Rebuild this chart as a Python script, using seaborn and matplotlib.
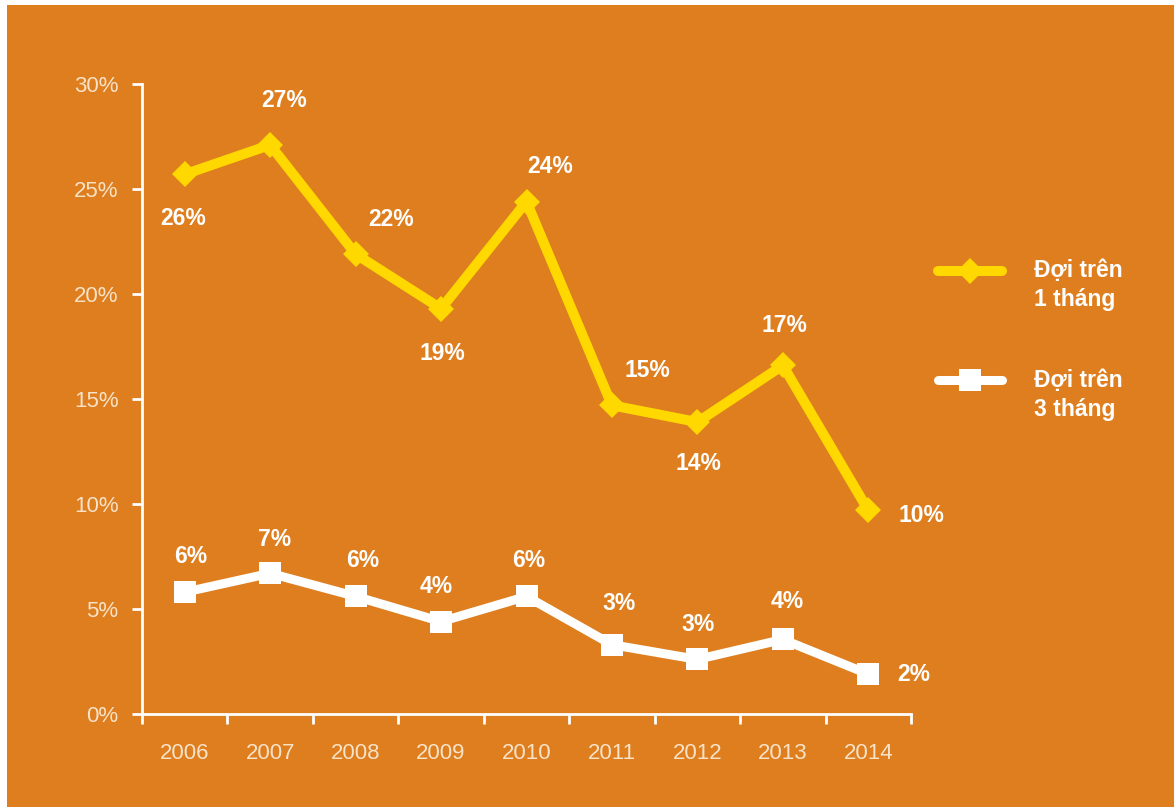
import numpy as np
import pandas as pd
import seaborn as sns
import matplotlib.pyplot as plt
from matplotlib.patches import Rectangle
from matplotlib.ticker import FixedLocator, FuncFormatter
from matplotlib.legend_handler import HandlerLine2D

# data (percent)
years = ["2006", "2007", "2008", "2009", "2010", "2011", "2012", "2013", "2014"]
wait_1_month = [25.7, 27.1, 21.9, 19.3, 24.4, 14.7, 13.9, 16.6, 9.7]
wait_3_month = [5.8, 6.7, 5.6, 4.4, 5.6, 3.3, 2.6, 3.55, 1.9]
label_1_month = "Đợi trên\n1 tháng"
label_3_month = "Đợi trên\n3 tháng"

# label offsets in pixels (dx, dy)
off_1_month = [(-2, -44), (14, 44), (35, 35), (1, -45), (24, 35),
               (35, 35), (1, -41), (2, 40), (53, -5)]
off_3_month = [(6, 36), (4, 34), (7, 36), (-5, 35), (2, 36),
               (7, 41), (1, 35), (4, 38), (45, 0)]

ORANGE = "#DE7E1E"
YELLOW = "#FFD800"
CREAM = "#F8E2C8"


class TopLineHandler(HandlerLine2D):
    # put the legend handle next to the first text line instead of the middle
    def create_artists(self, legend, orig_handle, xdescent, ydescent, width, height,
                       fontsize, trans):
        return super().create_artists(legend, orig_handle, xdescent, ydescent - 22,
                                      width, height, fontsize, trans)


sns.set_style("white")
plt.rcParams["font.family"] = ["Liberation Sans", "DejaVu Sans"]

df = pd.DataFrame({
    "pos": np.arange(len(years)),
    "m1": wait_1_month,
    "m3": wait_3_month,
})

fig = plt.figure(figsize=(11.74, 8.07), dpi=100, facecolor="white")
fig.patches.append(Rectangle((7 / 1174, 0), 1, 1 - 5 / 807, transform=fig.transFigure,
                             facecolor=ORANGE, edgecolor="none", zorder=-10))
ax = fig.add_axes([142 / 1174, 1 - 714 / 807, (911 - 142) / 1174, (714 - 84) / 807])
ax.set_facecolor("none")

sns.lineplot(data=df, x="pos", y="m1", ax=ax, color=YELLOW, linewidth=7.2,
             marker="D", markersize=13.5, markeredgewidth=0, label=label_1_month,
             solid_capstyle="round")
sns.lineplot(data=df, x="pos", y="m3", ax=ax, color="white", linewidth=6.5,
             marker="s", markersize=16, markeredgewidth=0, label=label_3_month,
             solid_capstyle="round")

for vals, offs in [(wait_1_month, off_1_month), (wait_3_month, off_3_month)]:
    for i, (v, (dx, dy)) in enumerate(zip(vals, offs)):
        ax.annotate(f"{v:.0f}%", (i, v), xytext=(dx, dy), textcoords="offset pixels",
                    ha="center", va="center", color="white", fontsize=16.5,
                    fontweight="bold")

ax.set_xlim(-0.5, len(years) - 0.5)
ax.set_ylim(0, 30)
ax.set_xticks(df["pos"])
ax.set_xticklabels(years)
ax.xaxis.set_minor_locator(FixedLocator(np.arange(-0.5, len(years), 1.0)))
ax.set_yticks(np.arange(0, 31, 5))
ax.yaxis.set_major_formatter(FuncFormatter(lambda v, p: f"{v:.0f}%"))
ax.set_xlabel("")
ax.set_ylabel("")

for side in ["top", "right"]:
    ax.spines[side].set_visible(False)
for side in ["left", "bottom"]:
    ax.spines[side].set_color("white")
    ax.spines[side].set_linewidth(2)

ax.tick_params(axis="x", which="major", length=0, pad=21, labelsize=16, labelcolor=CREAM)
ax.tick_params(axis="x", which="minor", length=7, width=2, color="white", direction="out",
               bottom=True)
ax.tick_params(axis="y", length=7, width=2, color="white", direction="out", left=True,
               pad=10, labelsize=16, labelcolor=CREAM)

handles, labels = ax.get_legend_handles_labels()
leg = ax.legend(handles, labels, loc="upper left", bbox_to_anchor=(1.008, 0.755),
                frameon=False, handlelength=2.8, handletextpad=1.4, labelspacing=2.5,
                prop={"size": 16.5, "weight": "bold"},
                handler_map={h: TopLineHandler() for h in handles})
for t in leg.get_texts():
    t.set_color("white")
    t.set_linespacing(1.35)

fig.savefig("out.png", dpi=100, facecolor="white")
